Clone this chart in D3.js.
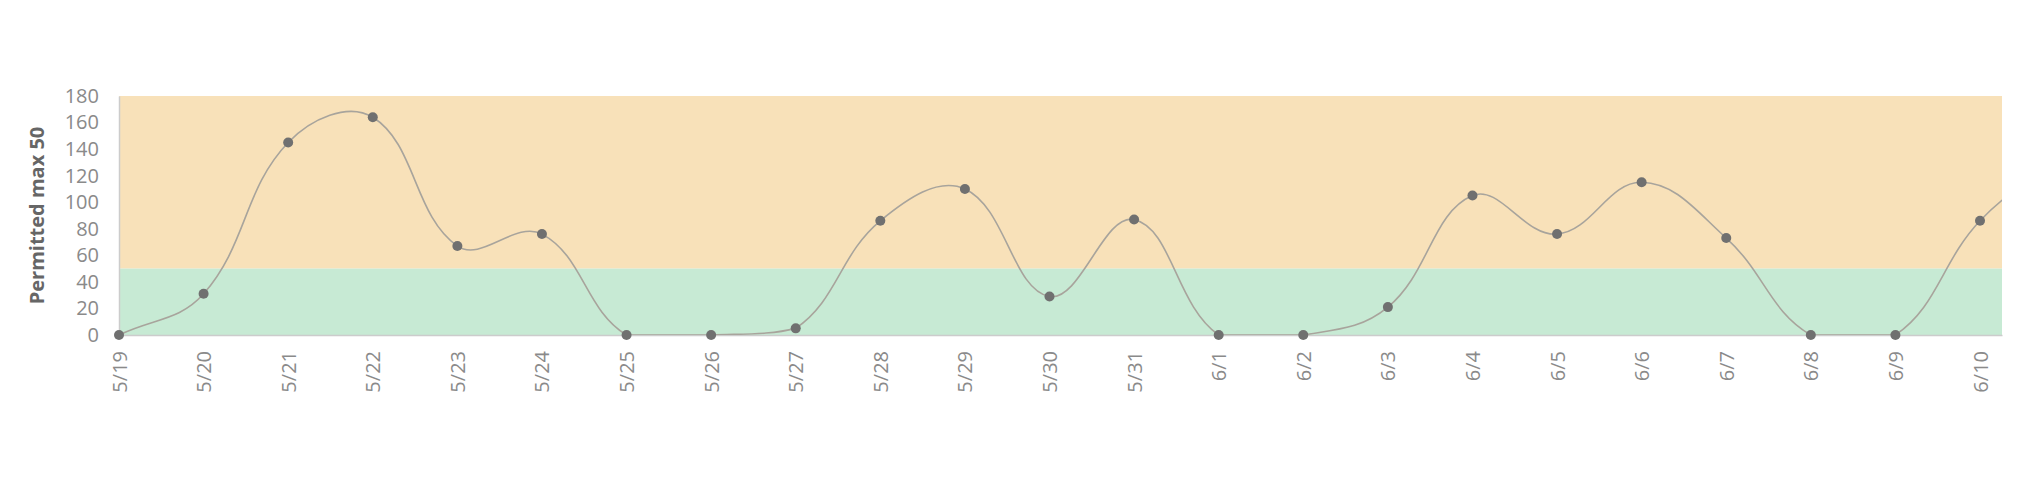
<!DOCTYPE html>
<html>
<head>
<meta charset="utf-8">
<script src="https://cdn.jsdelivr.net/npm/d3@7"></script>
<style>
  html, body { margin: 0; padding: 0; background: #fff; }
  svg { display: block; font-family: "Open Sans", sans-serif; }
</style>
</head>
<body>
<svg id="chart" width="2040" height="500"></svg>
<script>
// Data
const dates = ["5/19","5/20","5/21","5/22","5/23","5/24","5/25","5/26","5/27","5/28","5/29","5/30","5/31",
               "6/1","6/2","6/3","6/4","6/5","6/6","6/7","6/8","6/9","6/10","6/11"];
const values = [0,31,145,164,67,76,0,0,5,86,110,29,87,0,0,21,105,76,115,73,0,0,86,135];
const visibleCount = 23;            // 5/19 .. 6/10 are labelled / dotted
const yTicks = [0,20,40,60,80,100,120,140,160,180];
const yLabel = "Permitted max 50";
const threshold = [50];
const yMax = [180];

const margin = {left: 119, top: 96, right: 38, bottom: 165};
const W = 2040, H = 500;
const iw = W - margin.left - margin.right;
const ih = H - margin.top - margin.bottom;

const svg = d3.select("#chart");
const g = svg.append("g").attr("transform", `translate(${margin.left},${margin.top})`);

const x = d3.scaleLinear().domain([0, visibleCount - 1 + 0.26]).range([0, iw]);
const y = d3.scaleLinear().domain([0, yMax[0]]).range([ih, 0]);

// Regions
g.append("rect").attr("x", 0).attr("width", iw)
  .attr("y", y(yMax[0])).attr("height", y(threshold[0]) - y(yMax[0]))
  .attr("fill", "#f8e1b9");
g.append("rect").attr("x", 0).attr("width", iw)
  .attr("y", y(threshold[0])).attr("height", y(0) - y(threshold[0]))
  .attr("fill", "#c7ead4");

// Axes
const yAxis = g.append("g").call(d3.axisLeft(y).tickValues(yTicks).tickSize(0).tickPadding(20));
yAxis.select(".domain").attr("stroke", "#cccccc").attr("stroke-width", 1.5);
yAxis.selectAll("text").attr("fill", "#8a8a8a").attr("font-size", 20)
  .attr("font-family", "'Open Sans', sans-serif");

const xAxis = g.append("g").attr("transform", `translate(0,${ih})`)
  .call(d3.axisBottom(x).tickValues(d3.range(visibleCount)).tickFormat(i => dates[i]).tickSize(0));
xAxis.select(".domain").attr("stroke", "#cccccc").attr("stroke-width", 1.5);
xAxis.selectAll("text")
  .attr("fill", "#8a8a8a").attr("font-size", 20).attr("font-family", "'Open Sans', sans-serif")
  .attr("text-anchor", "end")
  .attr("transform", "translate(0,16) rotate(-90)")
  .attr("x", 0).attr("y", 0).attr("dy", "0.35em");

// Y label
svg.append("text")
  .attr("transform", `translate(37,${margin.top + ih/2}) rotate(-90)`)
  .attr("text-anchor", "middle").attr("dy", "0.35em")
  .attr("font-size", 20).attr("font-weight", "bold").attr("fill", "#666")
  .text(yLabel);

// Spline (tension 0.4, control points capped to the plot area)
const pts = values.map((v, i) => ({x: x(i), y: y(v)}));
const tension = 0.4;
pts.forEach((p, i) => {
  const prev = i > 0 ? pts[i - 1] : p;
  const next = i < pts.length - 1 ? pts[i + 1] : p;
  const d01 = Math.hypot(p.x - prev.x, p.y - prev.y);
  const d12 = Math.hypot(next.x - p.x, next.y - p.y);
  let s01 = d01 / (d01 + d12), s12 = d12 / (d01 + d12);
  if (!isFinite(s01)) s01 = 0;
  if (!isFinite(s12)) s12 = 0;
  const fa = tension * s01, fb = tension * s12;
  p.cp1x = p.x - fa * (next.x - prev.x);
  p.cp1y = p.y - fa * (next.y - prev.y);
  p.cp2x = p.x + fb * (next.x - prev.x);
  p.cp2y = p.y + fb * (next.y - prev.y);
});
const inArea = p => p.x >= -0.5 && p.x <= iw + 0.5 && p.y >= -0.5 && p.y <= ih + 0.5;
const cap = (v, lo, hi) => Math.max(Math.min(v, hi), lo);
pts.forEach((p, i) => {
  if (!inArea(p)) return;
  if (i > 0 && inArea(pts[i - 1])) { p.cp1x = cap(p.cp1x, 0, iw); p.cp1y = cap(p.cp1y, 0, ih); }
  if (i < pts.length - 1 && inArea(pts[i + 1])) { p.cp2x = cap(p.cp2x, 0, iw); p.cp2y = cap(p.cp2y, 0, ih); }
});
const path = d3.path();
path.moveTo(pts[0].x, pts[0].y);
for (let i = 1; i < pts.length; i++) {
  const a = pts[i - 1], b = pts[i];
  path.bezierCurveTo(a.cp2x, a.cp2y, b.cp1x, b.cp1y, b.x, b.y);
}

svg.append("defs").append("clipPath").attr("id", "clip")
  .append("rect").attr("width", iw).attr("height", ih + 4).attr("y", -4);

g.append("path")
  .attr("clip-path", "url(#clip)")
  .attr("d", path.toString()).attr("fill", "none")
  .attr("stroke", "#a8a49c").attr("stroke-width", 1.6);

// Points
g.selectAll("circle.pt").data(values.slice(0, visibleCount)).enter().append("circle")
  .attr("class", "pt")
  .attr("cx", (d, i) => x(i)).attr("cy", d => y(d)).attr("r", 5)
  .attr("fill", "#707070");
</script>
</body>
</html>
